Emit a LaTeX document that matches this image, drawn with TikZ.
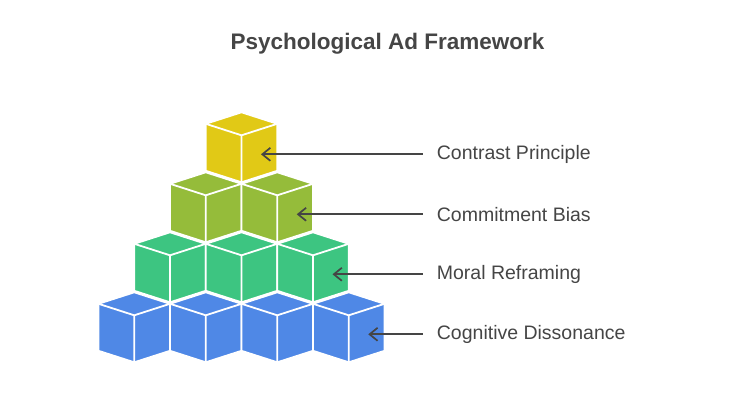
\documentclass[tikz,border=0pt]{standalone}
\usepackage{fontspec}
\setmainfont{Liberation Sans}
\usetikzlibrary{arrows.meta}
\definecolor{cubeyellow}{HTML}{E1C916}
\definecolor{cubeolive}{HTML}{95BC3A}
\definecolor{cubegreen}{HTML}{3DC581}
\definecolor{cubeblue}{HTML}{4F88E6}
\definecolor{inkgrey}{HTML}{454545}
\newcommand{\isocube}[3]{%
  \filldraw[cubeface,fill=#3] (#1,#2) -- ++(-35.75,11.5) -- ++(0,47) -- ++(35.75,11.5)
    -- ++(35.75,-11.5) -- ++(0,-47) -- cycle;
  \draw[cubeface] (#1,#2) ++(-35.75,11.5) -- ++(35.75,11.5) -- ++(35.75,-11.5)
    (#1,#2) ++(0,23) -- ++(0,47);}

\begin{document}
\begin{tikzpicture}[x=1pt,y=-1pt]
    \tikzstyle{cubeface} = [draw=white,line width=1.8pt,line join=round]
    \tikzstyle{caption} = [anchor=west,inner sep=0pt,text=inkgrey,font=\fontsize{19.5}{22}\selectfont]
    \tikzstyle{pointer} = [inkgrey,line width=1.7pt,-{Straight Barb[length=8pt,width=13pt]},shorten <=14pt]
      \useasboundingbox (0,0) rectangle (736,412);
      \node[text=inkgrey,font=\bfseries\fontsize{22.5}{26}\selectfont] (title) at (387.5,44) {Psychological Ad Framework};
      \foreach \row/\col in {1/cubeyellow,2/cubeolive,3/cubegreen,4/cubeblue} {
        \pgfmathsetmacro{\cy}{112.3+60*(\row-1)}
        \foreach \k in {1,...,\row} {
          \pgfmathsetmacro{\cx}{241.5-35.75*(\row-1)+71.5*(\k-1)}
          \isocube{\cx}{\cy}{\col}
        }
        \pgfmathsetmacro{\tx}{241.5+35.75*(\row-1)+19.5}
        \coordinate (tip\row) at (\tx,\cy+42);
      }
      \node[caption] (contrast) at (436.7,154.3) {Contrast Principle};
      \node[caption] (commitment) at (436.7,214.3) {Commitment Bias};
      \node[caption] (moral) at (436.7,274.3) {Moral Reframing};
      \node[caption] (cognitive) at (436.7,334.3) {Cognitive Dissonance};
      \foreach \t/\n in {contrast/1,commitment/2,moral/3,cognitive/4} \draw[pointer] (\t.west) -- (tip\n);
  \end{tikzpicture}
\end{document}
